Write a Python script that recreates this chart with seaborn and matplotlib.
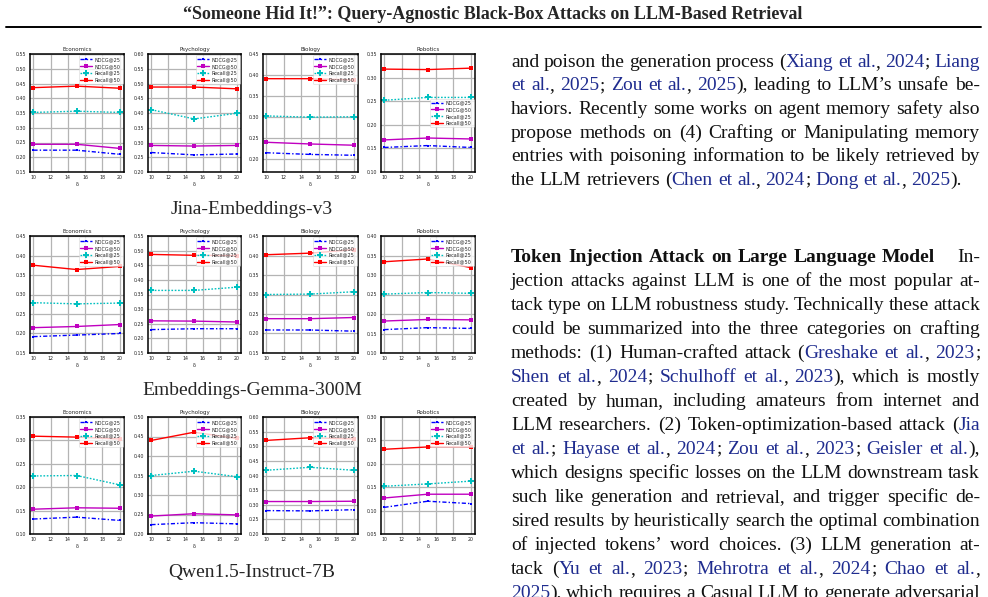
"""Page snippet: delta sensitivity curves for three retrievers, plus the related-work column."""

import matplotlib

matplotlib.use("Agg")
import matplotlib.pyplot as plt
import numpy as np
import pandas as pd
import seaborn as sns

DELTA = [10, 15, 20]
DOMAINS = ["Economics", "Psychology", "Biology", "Robotics"]
METRICS = ["NDCG@25", "NDCG@50", "Recall@25", "Recall@50"]
MODELS = ["Jina-Embeddings-v3", "Embeddings-Gemma-300M", "Qwen1.5-Instruct-7B"]

# one list per domain (Economics, Psychology, Biology, Robotics), values at delta = 10, 15, 20
jina_ndcg25 = [[0.224, 0.224, 0.210], [0.266, 0.258, 0.261], [0.214, 0.210, 0.208], [0.152, 0.156, 0.152]]
jina_ndcg50 = [[0.244, 0.244, 0.230], [0.290, 0.288, 0.290], [0.239, 0.235, 0.232], [0.168, 0.172, 0.170]]
jina_recall25 = [[0.352, 0.356, 0.352], [0.411, 0.380, 0.399], [0.302, 0.299, 0.300], [0.252, 0.258, 0.258]]
jina_recall50 = [[0.436, 0.441, 0.434], [0.488, 0.488, 0.482], [0.391, 0.391, 0.388], [0.318, 0.317, 0.320]]

gemma_ndcg25 = [[0.192, 0.196, 0.200], [0.230, 0.233, 0.233], [0.209, 0.209, 0.206], [0.160, 0.165, 0.163]]
gemma_ndcg50 = [[0.215, 0.218, 0.223], [0.260, 0.259, 0.256], [0.238, 0.238, 0.241], [0.182, 0.186, 0.185]]
gemma_recall25 = [[0.279, 0.276, 0.278], [0.364, 0.364, 0.375], [0.300, 0.301, 0.307], [0.251, 0.255, 0.253]]
gemma_recall50 = [[0.375, 0.364, 0.372], [0.487, 0.484, 0.483], [0.402, 0.406, 0.415], [0.334, 0.341, 0.319]]

qwen_ndcg25 = [[0.132, 0.136, 0.129], [0.224, 0.229, 0.226], [0.280, 0.279, 0.283], [0.107, 0.120, 0.115]]
qwen_ndcg50 = [[0.153, 0.156, 0.155], [0.246, 0.252, 0.249], [0.311, 0.311, 0.312], [0.127, 0.135, 0.135]]
qwen_recall25 = [[0.224, 0.225, 0.205], [0.350, 0.361, 0.347], [0.418, 0.428, 0.418], [0.152, 0.157, 0.163]]
qwen_recall50 = [[0.309, 0.307, 0.303], [0.440, 0.461, 0.445], [0.520, 0.529, 0.525], [0.231, 0.236, 0.236]]

# y ranges per panel, rows follow MODELS
YLIMS = [
    [(0.15, 0.55), (0.20, 0.60), (0.168, 0.45), (0.10, 0.35)],
    [(0.15, 0.45), (0.15, 0.55), (0.15, 0.45), (0.10, 0.40)],
    [(0.10, 0.35), (0.20, 0.50), (0.20, 0.60), (0.05, 0.30)],
]

RESULTS = [
    [jina_ndcg25, jina_ndcg50, jina_recall25, jina_recall50],
    [gemma_ndcg25, gemma_ndcg50, gemma_recall25, gemma_recall50],
    [qwen_ndcg25, qwen_ndcg50, qwen_recall25, qwen_recall50],
]

STYLE = {
    "NDCG@25": dict(color="#0000ff", dashes=(3, 1.5, 1, 1.5), marker="s", markersize=1.9),
    "NDCG@50": dict(color="#c000c0", dashes=None, marker="s", markersize=2.3),
    "Recall@25": dict(color="#00c0c0", dashes=(1.2, 1.2), marker="P", markersize=3.8),
    "Recall@50": dict(color="#ff0000", dashes=None, marker="s", markersize=2.8),
}

PARA1 = [
    "and poison the generation process ([Xiang et al.], [2024]; [Liang]",
    "[et al.], [2025]; [Zou et al.], [2025]), leading to LLM’s unsafe be-",
    "haviors. Recently some works on agent memory safety also",
    "propose methods on (4) Crafting or Manipulating memory",
    "entries with poisoning information to be likely retrieved by",
    "the LLM retrievers ([Chen et al.], [2024]; [Dong et al.], [2025]).",
]
PARA2 = [
    "*Token Injection Attack on Large Language Model* ~ In-",
    "jection attacks against LLM is one of the most popular at-",
    "tack type on LLM robustness study. Technically these attack",
    "could be summarized into the three categories on crafting",
    "methods: (1) Human-crafted attack ([Greshake et al.], [2023];",
    "[Shen et al.], [2024]; [Schulhoff et al.], [2023]), which is mostly",
    "created by human, including amateurs from internet and",
    "LLM researchers. (2) Token-optimization-based attack ([Jia]",
    "[et al.]; [Hayase et al.], [2024]; [Zou et al.], [2023]; [Geisler et al.]),",
    "which designs specific losses on the LLM downstream task",
    "such like generation and retrieval, and trigger specific de-",
    "sired results by heuristically search the optimal combination",
    "of injected tokens’ word choices. (3) LLM generation at-",
    "tack ([Yu et al.], [2023]; [Mehrotra et al.], [2024]; [Chao et al.],",
    "[2025]), which requires a Casual LLM to generate adversarial",
]

W, H = 988, 597
SERIF = ["Liberation Serif", "DejaVu Serif"]
BODY_FS = 14.0
CITE = "#1f2c8f"

sns.set_theme(style="whitegrid")
plt.rcParams["font.family"] = ["DejaVu Sans"]
fig = plt.figure(figsize=(W / 100, H / 100), dpi=100)
fig.patch.set_facecolor("white")


def px_axes(x0, y0, x1, y1):
    return fig.add_axes([x0 / W, 1 - y1 / H, (x1 - x0) / W, (y1 - y0) / H])


col_px = [(30, 124), (148, 241), (263, 358), (381, 475)]
row_px = [(54, 172), (236, 353), (417, 534)]

for r, model in enumerate(MODELS):
    for c, dom in enumerate(DOMAINS):
        ax = px_axes(col_px[c][0], row_px[r][0], col_px[c][1], row_px[r][1])
        ax.set_facecolor("white")
        for m, metric in enumerate(METRICS):
            df = pd.DataFrame({"delta": DELTA, "score": RESULTS[r][m][c]})
            st = STYLE[metric]
            sns.lineplot(data=df, x="delta", y="score", ax=ax, color=st["color"], lw=1.0,
                         marker=st["marker"], markersize=st["markersize"], markeredgewidth=0,
                         label=metric)
            if st["dashes"] is not None:
                ax.lines[-1].set_dashes(st["dashes"])
        lo, hi = YLIMS[r][c]
        ax.set_ylim(lo, hi)
        first = np.ceil(lo / 0.05 - 1e-6) * 0.05
        ax.set_yticks(np.arange(first, hi + 1e-6, 0.05))
        ax.yaxis.set_major_formatter(matplotlib.ticker.FormatStrFormatter("%.2f"))
        ax.set_xlim(9.6, 20.5)
        ax.set_xticks(np.arange(10, 21, 2))
        ax.tick_params(labelsize=3.4, length=1.5, width=0.5, pad=1)
        ax.grid(True, color="#b4b4b4", lw=0.9)
        for sp in ax.spines.values():
            sp.set_color("black")
            sp.set_linewidth(1.1)
        ax.set_title(dom, fontsize=4, pad=2)
        ax.set_xlabel("δ", fontsize=3.5, labelpad=1)
        ax.set_ylabel("")
        loc = "center right" if (r == 0 and c == 3) else "upper right"
        leg = ax.legend(loc=loc, fontsize=3.5, frameon=True, handlelength=2.4,
                        borderpad=0.35, labelspacing=0.35, handletextpad=0.6, borderaxespad=0.3)
        if loc == "center right":
            leg.set_bbox_to_anchor((1.0, 0.5), transform=ax.transAxes)
        leg.get_frame().set_linewidth(0.4)
        leg.get_frame().set_edgecolor("#cccccc")

caption_base = [214, 395, 577]
for model, yb in zip(MODELS, caption_base):
    fig.text(252 / W, 1 - yb / H, model, ha="center", va="baseline",
             family=SERIF, fontsize=BODY_FS)

# running title and rule
fig.text(493 / W, 1 - 19 / H, "“Someone Hid It!”: Query-Agnostic Black-Box Attacks on LLM-Based Retrieval",
         ha="center", va="baseline", family=SERIF, fontsize=13, weight="bold")
fig.add_artist(plt.Line2D([6 / W, 981 / W], [1 - 27 / H, 1 - 27 / H], color="black", lw=1.4))

renderer = fig.canvas.get_renderer()
_cache = {}


def seg_width(txt, bold):
    key = (txt, bold)
    if key not in _cache:
        t = fig.text(0, 0, txt, family=SERIF, fontsize=BODY_FS, weight="bold" if bold else "normal")
        _cache[key] = t.get_window_extent(renderer).width
        t.remove()
    return _cache[key]


def parse(line):
    words, cur, buf = [], [], ""
    blue, bold = False, False

    def flush():
        nonlocal buf
        if buf:
            cur.append((buf, blue, bold))
        buf = ""

    for ch in line:
        if ch == "[":
            flush(); blue = True
        elif ch == "]":
            flush(); blue = False
        elif ch == "*":
            flush(); bold = not bold
        elif ch == " ":
            flush()
            if cur:
                words.append(cur)
            cur = []
        else:
            buf += ch
    flush()
    if cur:
        words.append(cur)
    return words


def draw_par(lines, x0, x1, base0, step, last_ragged):
    for i, line in enumerate(lines):
        words = parse(line)
        widths = []
        for w in words:
            if len(w) == 1 and w[0][0] == "~":
                widths.append(10.0)
            else:
                widths.append(sum(seg_width(s, b) for s, _, b in w))
        if last_ragged and i == len(lines) - 1:
            gap = 5.0
        else:
            gap = (x1 - x0 - sum(widths)) / max(len(words) - 1, 1)
        x = x0
        yb = base0 + i * step
        for w, wd in zip(words, widths):
            if not (len(w) == 1 and w[0][0] == "~"):
                xs = x
                for s, blue, b in w:
                    fig.text(xs / W, 1 - yb / H, s, ha="left", va="baseline", family=SERIF,
                             fontsize=BODY_FS, weight="bold" if b else "normal",
                             color=CITE if blue else "#111111")
                    xs += seg_width(s, b)
            x += wd + gap


draw_par(PARA1, 511, 980, 66.7, 23.6, True)
draw_par(PARA2, 511, 980, 261.7, 24.0, False)

fig.savefig("out.png", dpi=100, facecolor="white")
